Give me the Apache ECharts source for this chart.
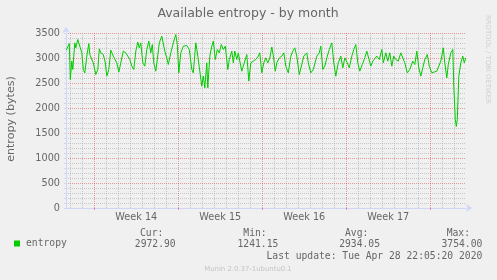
<!DOCTYPE html>
<html><head><meta charset="utf-8">
<script src="https://cdn.jsdelivr.net/npm/echarts@6/dist/echarts.min.js"></script>
<style>html,body{margin:0;padding:0;background:#f0f0f0}#c{width:497px;height:280px}</style>
</head><body><div id="c"></div>
<script>
// Hours relative to the week boundary (Sun 29 Mar 00:00) and entropy values (bytes)
const hours = [-56,-52,-50,-48,-45,-43,-39,-37,-33,-29,-25,-22,-19,-15,-11,-9,-5,-2,3,7,10,13,18,22,25,29,33,38,41,45,49,53,58,63,67,71,75,79,83,87,90,93,97,101,105,109,113,116,119,123,126,130,135,138,141,145,148,153,158,163,166,169,173,178,185,190,195,198,203,207,211,215,218,221,225,227,231,235,238,242,246,250,254,258,262,267,270,275,278,281,285,288,291,295,298,301,305,309,313,318,323,328,331,335,339,343,347,351,355,358,362,365,370,375,379,383,388,393,397,401,405,410,415,419,425,428,433,438,445,450,453,457,461,466,470,475,479,483,488,493,497,501,506,510,515,519,523,527,531,536,541,545,549,553,557,561,565,570,575,578,583,587,591,595,599,603,608,613,617,621,626,631,637,641,645,649,653,657,661,666,670,675,679,685,689,693,698,701,705,708,713,717,719,722,724,726,729,733,737,740,743];
const entropy = [3157,3183,3290,2570,2937,2770,3303,3203,3370,3337,3103,2770,2703,3037,3290,3070,3103,2903,2670,2770,3183,3103,3070,2903,2637,2770,3157,3037,3070,2903,2717,2737,3137,3103,3137,2970,2837,2770,3137,3317,3203,3303,2903,2837,3170,3337,3103,3270,2903,2737,2970,3303,3437,3403,3137,3003,2870,3103,3303,3470,3270,2703,3103,3237,3250,3170,2770,2703,3303,3037,2737,2437,2637,2403,2903,2403,3037,3237,3337,2970,3170,3103,3270,3170,3237,2770,2970,3137,2903,3137,2970,3103,2937,2737,2837,2803,3070,2537,2903,2937,2970,3037,3103,2703,2903,3003,2903,3000,3220,3050,2737,2903,3003,3037,3103,2837,2703,3037,3137,3203,3037,2670,2870,3037,3103,2903,2703,2770,3037,3103,3237,2770,2837,3037,3170,3303,2903,2637,2903,3037,2803,3003,2903,2803,3037,3170,3270,2903,2737,2870,3003,3137,3103,2837,2937,2903,3037,2970,3170,2903,3103,2937,3103,2837,3037,2970,2937,3103,3137,2903,2703,2770,2937,2870,3137,2803,2637,2803,2970,3070,2837,2703,2703,2737,2770,2937,3203,2903,2603,2870,3103,3170,2437,1770,1630,1770,2637,2903,3037,2903,3003];
const weekBounds = [0,168,336,504,672];
const weekCenters = [84,252,420,588];
const weekLabels = ['Week 14','Week 15','Week 16','Week 17'];
const yTicks = [0,500,1000,1500,2000,2500,3000,3500];
const statHeaders = ['Cur:','Min:','Avg:','Max:'];
const statValues = ['2972.90','1241.15','2934.05','3754.00'];
const seriesName = 'entropy';
const titleText = 'Available entropy - by month';
const yName = 'entropy (bytes)';
const lastUpdate = 'Last update: Tue Apr 28 22:05:20 2020';
const footer = 'Munin 2.0.37-1ubuntu0.1';
const watermark = 'RRDTOOL / TOBI OETIKER';

const X_MIN = -56.6, X_MAX = 743.4;
const dayLines = [];
for (let h = -48; h <= X_MAX; h += 24) if (weekBounds.indexOf(h) < 0) dayLines.push(h);

const FONT = 'DejaVu Sans';
const MONO = 'DejaVu Sans Mono';
const FC = '#666666';
const GRIDC = 'rgba(143,143,143,0.42)';
const MGRIDC = 'rgba(222,79,79,0.55)';
const AXISC = '#CFD6F8';

const chart = echarts.init(document.getElementById('c'), null, {renderer:'canvas'});
const hdrX = [163.3, 266.7, 368.3, 470];
const valX = [175.7, 278.3, 380, 482.3];
const graphics = [];
statHeaders.forEach((t,i)=>graphics.push({type:'text', x:hdrX[i], y:233.3, style:{text:t, font:'9.7px '+MONO, fill:FC, align:'right', verticalAlign:'middle'}}));
statValues.forEach((t,i)=>graphics.push({type:'text', x:valX[i], y:244.3, style:{text:t, font:'9.7px '+MONO, fill:FC, align:'right', verticalAlign:'middle'}}));
graphics.push({type:'text', x:482.3, y:256.7, style:{text:lastUpdate, font:'9.7px '+MONO, fill:FC, align:'right', verticalAlign:'middle'}});
graphics.push({type:'text', x:248, y:269.3, style:{text:footer, font:'6.9px '+FONT, fill:'#c4c4c4', align:'center', verticalAlign:'middle'}});
graphics.push({type:'text', x:488, y:15, rotation:-Math.PI/2, style:{text:watermark, font:'6.9px '+FONT, fill:'#cfcfcf', align:'left', verticalAlign:'middle'}});
graphics.push({type:'text', x:11, y:119, rotation:Math.PI/2, style:{text:yName, font:'11.1px '+FONT, fill:FC, align:'center', verticalAlign:'middle'}});
graphics.push({type:'text', x:248, y:13.3, style:{text:titleText, font:'12.5px '+FONT, fill:FC, align:'center', verticalAlign:'middle'}});

const option = {
  animation:false,
  backgroundColor:'#f0f0f0',
  grid:{left:66, right:31, top:33, bottom:72, containLabel:false},
  legend:{data:[seriesName], left:14, top:238.5, padding:0, icon:'rect', itemWidth:6, itemHeight:6,
    textStyle:{fontFamily:MONO, fontSize:9.7, color:FC, padding:[0,0,0,1]}},
  xAxis:[
    {type:'value', min:X_MIN, max:X_MAX, z:2,
     axisLine:{show:true, onZero:false, lineStyle:{color:AXISC, width:1}, symbol:['none','arrow'], symbolSize:[6,6], symbolOffset:[0,6]},
     axisTick:{show:true, customValues:weekBounds, length:2, lineStyle:{color:MGRIDC}},
     axisLabel:{customValues:weekCenters, formatter:(v)=>weekLabels[weekCenters.indexOf(v)]||'', fontFamily:FONT, fontSize:9.7, color:FC, margin:4},
     splitLine:{show:true, lineStyle:{color:MGRIDC, type:'dotted', width:1}}},
    {type:'value', min:X_MIN, max:X_MAX, position:'bottom', z:1,
     axisLine:{show:false, onZero:false},
     axisTick:{show:false, customValues:dayLines},
     axisLabel:{show:false},
     splitLine:{show:true, lineStyle:{color:GRIDC, type:'dotted', width:1}}}
  ],
  yAxis:{type:'value', min:0, max:3500, interval:500,
    axisLine:{show:true, onZero:false, lineStyle:{color:AXISC, width:1}, symbol:['none','arrow'], symbolSize:[6,6], symbolOffset:[0,6]},
    axisTick:{show:true, length:2, lineStyle:{color:AXISC}},
    minorTick:{show:true, splitNumber:5, length:2, lineStyle:{color:AXISC}},
    axisLabel:{fontFamily:FONT, fontSize:9.7, color:FC, margin:6, formatter:(v)=>yTicks.indexOf(v)>=0?String(v):''},
    splitLine:{show:true, lineStyle:{color:MGRIDC, type:'dotted', width:1}},
    minorSplitLine:{show:true, lineStyle:{color:GRIDC, type:'dotted', width:1}}},
  graphic:graphics,
  series:[
    {type:'line', name:seriesName, xAxisIndex:0, z:3, showSymbol:false, symbol:'none', color:'#00CC00',
     lineStyle:{color:'#00CC00', width:1}, data:hours.map((h,i)=>[h, entropy[i]])}
  ]
};
chart.setOption(option);
</script></body></html>
